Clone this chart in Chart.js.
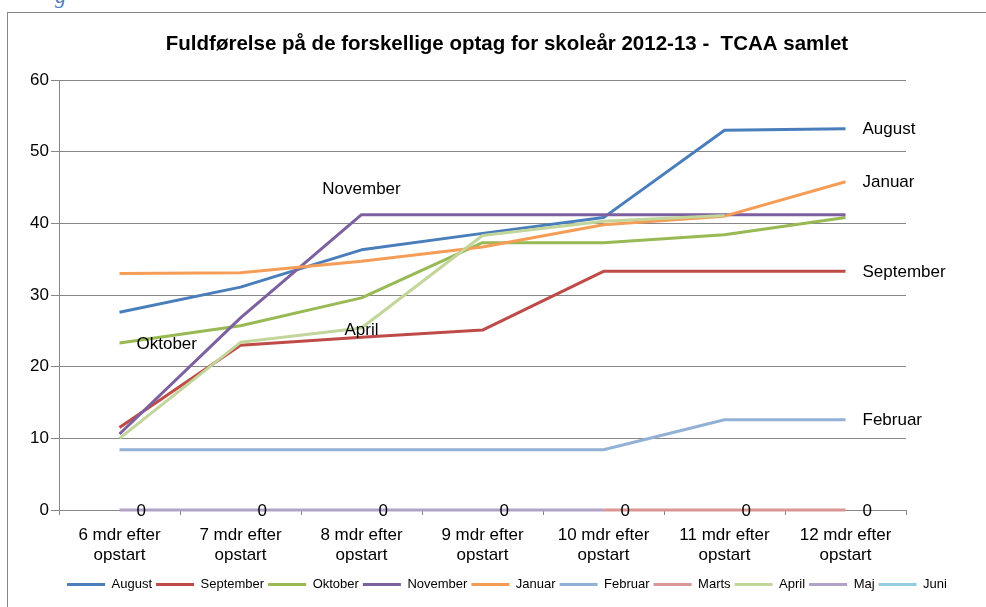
<!DOCTYPE html>
<html>
<head>
<meta charset="utf-8">
<script src="https://cdn.jsdelivr.net/npm/chart.js@4.4.0/dist/chart.umd.min.js"></script>
<style>
  html, body { margin: 0; padding: 0; background: #fff; overflow: hidden; }
  #wrap { position: relative; width: 986px; height: 607px; overflow: hidden; }
  #frame { position: absolute; left: 7px; top: 12px; right: -2px; bottom: -2px;
           border-left: 1px solid #878787; border-top: 1px solid #878787; }
  #cut { position: absolute; left: 55px; top: -17px; font: italic 22px "Liberation Serif", serif; color: #4f81bd; }
  canvas { position: absolute; left: 0; top: 0; }
</style>
</head>
<body>
<div id="wrap">
  <div id="cut">g</div>
  <div id="frame"></div>
  <canvas id="chart" width="1014" height="607"></canvas>
</div>
<script>
// categories
const months = [
  ['6 mdr efter', 'opstart'], ['7 mdr efter', 'opstart'], ['8 mdr efter', 'opstart'],
  ['9 mdr efter', 'opstart'], ['10 mdr efter', 'opstart'], ['11 mdr efter', 'opstart'],
  ['12 mdr efter', 'opstart']
];

// series values
const august    = [27.6, 31.1, 36.3, 38.6, 40.8, 53.0, 53.2];
const september = [11.5, 23.0, 24.1, 25.1, 33.3, 33.3, 33.3];
const oktober   = [23.3, 25.7, 29.6, 37.3, 37.3, 38.4, 40.8];
const november  = [10.6, 26.8, 41.2, 41.2, 41.2, 41.2, 41.2];
const januar    = [33.0, 33.1, 34.7, 36.7, 39.8, 41.0, 45.8];
const februar   = [8.4, 8.4, 8.4, 8.4, 8.4, 12.6, 12.6];
const marts     = [null, null, null, null, 0, 0, 0];
const april     = [10.0, 23.4, 25.4, 38.3, 40.3, 41.1, null];
const maj       = [0, 0, 0, 0, 0, null, null];
const juni      = [0, 0, 0, 0, 0, 0, 0];

const yTicks = [0, 10, 20, 30, 40, 50, 60];

// which points carry a data label, and where
const pointLabels = [
  {series: 'August', idx: 6, pos: 'right'},
  {series: 'Januar', idx: 6, pos: 'right'},
  {series: 'September', idx: 6, pos: 'right'},
  {series: 'Februar', idx: 6, pos: 'right'},
  {series: 'November', idx: 2, pos: 'above'},
  {series: 'Oktober', idx: 0, pos: 'right'},
  {series: 'April', idx: 2, pos: 'center'}
];

const series = [
  ['August', august, '#4a7ebb'],
  ['September', september, '#be4b48'],
  ['Oktober', oktober, '#98b954'],
  ['November', november, '#7d60a0'],
  ['Januar', januar, '#f59d56'],
  ['Februar', februar, '#93b1d6'],
  ['Marts', marts, '#d89694'],
  ['April', april, '#c2d59a'],
  ['Maj', maj, '#b2a1c7'],
  ['Juni', juni, '#93cddd']
];

const FONT = '"Liberation Sans", Arial, sans-serif';

// draws excel-like data labels
const labelPlugin = {
  id: 'pointLabels',
  afterDatasetsDraw(chart) {
    const ctx = chart.ctx;
    ctx.save();
    ctx.font = '17px ' + FONT;
    ctx.fillStyle = '#000';
    ctx.textBaseline = 'middle';
    const draw = (text, pt, pos) => {
      if (pos === 'right') {
        ctx.textAlign = 'left';
        ctx.fillText(text, pt.x + 17, pt.y + 1);
      } else if (pos === 'above') {
        ctx.textAlign = 'center';
        ctx.fillText(text, pt.x, pt.y - 25);
      } else {
        ctx.textAlign = 'center';
        ctx.fillText(text, pt.x, pt.y + 2);
      }
    };
    pointLabels.forEach(l => {
      const di = chart.data.datasets.findIndex(d => d.label === l.series);
      const pt = chart.getDatasetMeta(di).data[l.idx];
      draw(l.series, pt, l.pos);
    });
    // the row of "0" labels
    const ji = chart.data.datasets.findIndex(d => d.label === 'Juni');
    chart.getDatasetMeta(ji).data.forEach((pt, i) => {
      draw(String(juni[i]), pt, 'right');
    });
    ctx.restore();
  }
};

const chart = new Chart(document.getElementById('chart'), {
  type: 'line',
  data: {
    labels: months,
    datasets: series.map((s, i) => ({
      label: s[0],
      data: s[1],
      borderColor: s[2],
      backgroundColor: s[2],
      borderWidth: 3,
      pointRadius: 0,
      tension: 0,
      borderJoinStyle: 'round',
      clip: 4,
      showLine: s[0] !== 'Juni',
      order: series.length - i   // later series on top, like excel
    }))
  },
  options: {
    responsive: false,
    animation: false,
    layout: { padding: { left: 0, right: 0, top: 0, bottom: 6 } },
    plugins: {
      tooltip: { enabled: false },
      title: {
        display: true,
        text: 'Fuldførelse på de forskellige optag for skoleår 2012-13 -  TCAA samlet',
        color: '#000',
        font: { family: FONT, size: 20.5, weight: 'bold' },
        padding: { top: 32, bottom: 23.4 }
      },
      legend: {
        position: 'bottom',
        labels: {
          usePointStyle: true,
          pointStyle: 'line',
          pointStyleWidth: 38,
          boxHeight: 13,
          padding: 4,
          color: '#000',
          font: { family: FONT, size: 13 },
          sort: (a, b) => a.datasetIndex - b.datasetIndex
        }
      }
    },
    scales: {
      x: {
        offset: true,
        grid: { offset: true, drawOnChartArea: false, tickLength: 5, color: '#878787' },
        border: { color: '#878787' },
        ticks: { color: '#000', font: { family: FONT, size: 17, lineHeight: 1.18 }, maxRotation: 0, padding: 10 },
        afterFit: (scale) => { scale.height = 64; }
      },
      y: {
        min: 0,
        max: 60,
        afterBuildTicks: (scale) => { scale.ticks = yTicks.map(v => ({value: v})); },
        grid: { color: '#878787', tickLength: 8 },
        border: { color: '#878787' },
        ticks: { color: '#000', font: { family: FONT, size: 17 }, padding: 2 },
        afterFit: (scale) => { scale.width = 59; }
      },
      // empty right-hand space where the end labels sit
      yRight: {
        position: 'right',
        grid: { display: false },
        border: { display: false },
        ticks: { display: false },
        afterFit: (scale) => { scale.width = 108; }
      }
    }
  },
  plugins: [labelPlugin]
});
</script>
</body>
</html>
